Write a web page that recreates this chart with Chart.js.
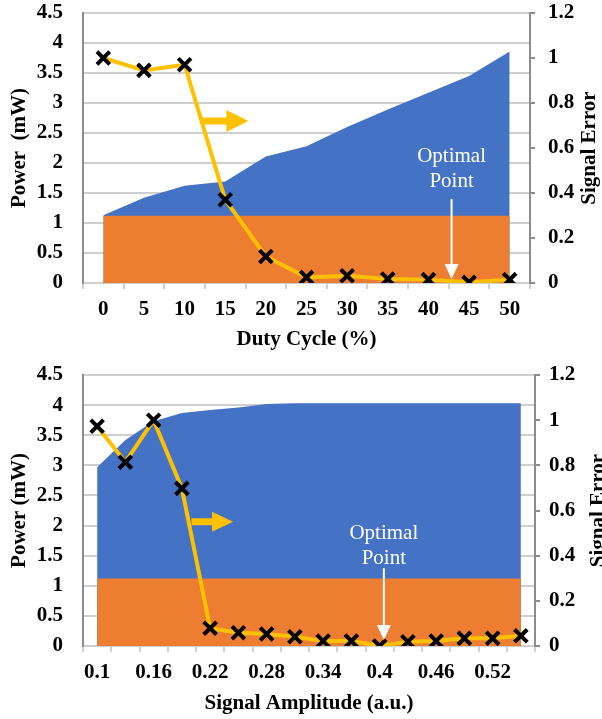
<!DOCTYPE html>
<html>
<head>
<meta charset="utf-8">
<script src="https://cdn.jsdelivr.net/npm/chart.js"></script>
<style>
  body { margin: 0; background: #fff; }
  .wrap { position: absolute; left: 0; width: 602px; }
  #top-wrap { top: 0; height: 355px; }
  #bottom-wrap { top: 355px; height: 364px; }
</style>
</head>
<body>
<div class="wrap" id="top-wrap"><canvas id="dutyChart" width="602" height="355"></canvas></div>
<div class="wrap" id="bottom-wrap"><canvas id="ampChart" width="602" height="364"></canvas></div>
<script>
// top chart: duty cycle sweep
const dutyCycle = ["0", "5", "10", "15", "20", "25", "30", "35", "40", "45", "50"];
const dutyPower = [1.13, 1.42, 1.62, 1.69, 2.11, 2.28, 2.6, 2.89, 3.17, 3.45, 3.86];
const dutyBase = [1.12, 1.12, 1.12, 1.12, 1.12, 1.12, 1.12, 1.12, 1.12, 1.12, 1.12];
const dutyError = [1.0, 0.945, 0.97, 0.37, 0.118, 0.025, 0.032, 0.018, 0.015, 0.003, 0.015];

// bottom chart: signal amplitude sweep
const amplitude = ["0.1", "0.13", "0.16", "0.19", "0.22", "0.25", "0.28", "0.31",
  "0.34", "0.37", "0.4", "0.43", "0.46", "0.49", "0.52", "0.55"];
const ampPower = [2.97, 3.42, 3.73, 3.87, 3.92, 3.96, 4.02, 4.03,
  4.03, 4.03, 4.03, 4.03, 4.03, 4.03, 4.03, 4.03];
const ampBase = [1.12, 1.12, 1.12, 1.12, 1.12, 1.12, 1.12, 1.12,
  1.12, 1.12, 1.12, 1.12, 1.12, 1.12, 1.12, 1.12];
const ampError = [0.973, 0.814, 1.0, 0.698, 0.079, 0.059, 0.053, 0.041,
  0.022, 0.022, 0.0, 0.019, 0.022, 0.034, 0.034, 0.045];

// axis ticks
const powerTicks = ["0", "0.5", "1", "1.5", "2", "2.5", "3", "3.5", "4", "4.5"];
const errorTicks = ["0", "0.2", "0.4", "0.6", "0.8", "1", "1.2"];

const FONT = "'Liberation Serif', 'Times New Roman', serif";
const boldFont = { family: FONT, size: 21, weight: "bold" };
const GRID = "#cfcfcf";

function tickText(list, value) {
  const hit = list.find((t) => Math.abs(parseFloat(t) - value) < 1e-6);
  return hit === undefined ? "" : hit;
}

// horizontal grid lines of the power axis, drawn before the datasets
const gridPlugin = {
  id: "powerGrid",
  beforeDraw(chart) {
    const { ctx, chartArea, scales } = chart;
    ctx.save();
    ctx.strokeStyle = GRID;
    ctx.lineWidth = 2;
    scales.y.ticks.forEach((t) => {
      const py = Math.round(scales.y.getPixelForValue(t.value));
      ctx.beginPath();
      ctx.moveTo(chartArea.left, py);
      ctx.lineTo(chartArea.right, py);
      ctx.stroke();
    });
    ctx.restore();
  },
};

// arrows, "Optimal Point" label and the right-hand axis title
const notesPlugin = {
  id: "notes",
  afterDatasetsDraw(chart, args, opts) {
    const { ctx, scales } = chart;
    const x = scales.x;
    const y1 = scales.y1;

    // yellow block arrow pointing to the right axis
    const a = opts.arrow;
    const ax0 = x.getPixelForValue(a.from);
    const ax1 = x.getPixelForValue(a.to);
    const ay = y1.getPixelForValue(a.at);
    ctx.save();
    ctx.fillStyle = "#FFC000";
    ctx.beginPath();
    ctx.moveTo(ax0, ay - a.shaft / 2);
    ctx.lineTo(ax1 - a.headLen, ay - a.shaft / 2);
    ctx.lineTo(ax1 - a.headLen, ay - a.headHalf);
    ctx.lineTo(ax1, ay);
    ctx.lineTo(ax1 - a.headLen, ay + a.headHalf);
    ctx.lineTo(ax1 - a.headLen, ay + a.shaft / 2);
    ctx.lineTo(ax0, ay + a.shaft / 2);
    ctx.closePath();
    ctx.fill();

    // white "Optimal Point" callout
    const o = opts.optimal;
    const ox = x.getPixelForValue(o.at);
    ctx.fillStyle = "#fff";
    ctx.strokeStyle = "#fff";
    ctx.font = "21px " + FONT;
    ctx.textAlign = "center";
    ctx.textBaseline = "middle";
    o.lines.forEach(([text, v]) => ctx.fillText(text, ox, y1.getPixelForValue(v)));
    const top = y1.getPixelForValue(o.from);
    const tip = y1.getPixelForValue(o.to);
    ctx.lineWidth = 2;
    ctx.beginPath();
    ctx.moveTo(ox, top);
    ctx.lineTo(ox, tip - 14);
    ctx.stroke();
    ctx.beginPath();
    ctx.moveTo(ox - 7, tip - 15);
    ctx.lineTo(ox + 7, tip - 15);
    ctx.lineTo(ox, tip);
    ctx.closePath();
    ctx.fill();
    ctx.restore();
  },
  afterDraw(chart, args, opts) {
    const { ctx, chartArea } = chart;
    ctx.save();
    ctx.translate(opts.rightTitleX, (chartArea.top + chartArea.bottom) / 2);
    ctx.rotate(-Math.PI / 2);
    ctx.fillStyle = "#000";
    ctx.font = "bold 21px " + FONT;
    ctx.textAlign = "center";
    ctx.textBaseline = "middle";
    ctx.fillText("Signal Error", 0, 0);
    ctx.restore();
  },
};

function makeChart(canvasId, cfg) {
  const ctx = document.getElementById(canvasId).getContext("2d");
  return new Chart(ctx, {
    type: "line",
    data: {
      labels: cfg.labels,
      datasets: [
        {
          label: "Signal Error",
          data: cfg.error,
          yAxisID: "y1",
          borderColor: "#FFC000",
          borderWidth: 4,
          tension: 0,
          fill: false,
          pointStyle: "crossRot",
          pointRadius: 9,
          pointBorderWidth: 4,
          pointBorderColor: "#000",
          pointBackgroundColor: "#000",
          order: 0,
        },
        {
          label: "Base Power",
          data: cfg.base,
          yAxisID: "y",
          backgroundColor: "#ED7D31",
          borderWidth: 0,
          pointRadius: 0,
          fill: "origin",
          order: 1,
        },
        {
          label: "Power",
          data: cfg.power,
          yAxisID: "y",
          backgroundColor: "#4472C4",
          borderWidth: 0,
          pointRadius: 0,
          fill: "origin",
          order: 2,
        },
      ],
    },
    options: {
      responsive: false,
      animation: false,
      layout: { padding: { top: cfg.padTop, left: 0, right: 0, bottom: 0 } },
      plugins: {
        legend: { display: false },
        tooltip: { enabled: false },
        notes: cfg.notes,
      },
      scales: {
        x: {
          type: "category",
          offset: true,
          grid: {
            offset: true,
            drawOnChartArea: false,
            drawTicks: true,
            tickLength: 6,
            color: GRID,
            lineWidth: 2,
          },
          border: { color: GRID, width: 2 },
          ticks: {
            font: boldFont,
            color: "#000",
            padding: 8,
            maxRotation: 0,
            autoSkip: false,
            callback: cfg.xLabel,
          },
          title: {
            display: true,
            text: cfg.xTitle,
            font: boldFont,
            color: "#000",
            padding: { top: 0, bottom: cfg.xTitlePad },
          },
          afterFit: (scale) => {
            scale.height = cfg.xHeight;
            scale.paddingLeft = 0;
            scale.paddingRight = 0;
          },
        },
        y: {
          position: "left",
          min: 0,
          max: 4.5,
          grid: {
            drawOnChartArea: true,
            color: GRID,
            lineWidth: 2,
            drawTicks: true,
            tickLength: 20,
            tickColor: "rgba(0,0,0,0)",
          },
          border: { color: "#8c8c8c", width: 2 },
          ticks: {
            font: boldFont,
            color: "#000",
            padding: 0,
            stepSize: 0.5,
            autoSkip: false,
            callback: (v) => tickText(powerTicks, v),
          },
          title: {
            display: true,
            text: cfg.yTitle,
            font: boldFont,
            color: "#000",
            padding: { top: 7, bottom: 0 },
          },
          afterFit: (scale) => {
            scale.width = 83;
            scale.paddingTop = 0;
            scale.paddingBottom = 0;
          },
        },
        y1: {
          position: "right",
          min: 0,
          max: 1.2,
          grid: {
            drawOnChartArea: false,
            drawTicks: true,
            tickLength: 5,
            color: "#8c8c8c",
            lineWidth: 2,
          },
          border: { color: "#8c8c8c", width: 2 },
          ticks: {
            font: boldFont,
            color: "#000",
            padding: cfg.rightPad,
            stepSize: 0.2,
            autoSkip: false,
            callback: (v) => tickText(errorTicks, v),
          },
          afterFit: (scale) => {
            scale.width = cfg.rightWidth;
            scale.paddingTop = 0;
            scale.paddingBottom = 0;
          },
        },
      },
    },
    plugins: [gridPlugin, notesPlugin],
  });
}

makeChart("dutyChart", {
  labels: dutyCycle,
  power: dutyPower,
  base: dutyBase,
  error: dutyError,
  xTitle: "Duty Cycle (%)",
  yTitle: "Power  (mW)",
  xLabel: (v, i) => dutyCycle[i],
  padTop: 13,
  xHeight: 72,
  xTitlePad: 3,
  rightWidth: 72,
  rightPad: 13,
  notes: {
    rightTitleX: 590,
    arrow: { from: 2.42, to: 3.57, at: 0.72, shaft: 7, headLen: 22, headHalf: 11 },
    optimal: { at: 8.57, lines: [["Optimal", 0.563], ["Point", 0.452]], from: 0.373, to: 0.018 },
  },
});

makeChart("ampChart", {
  labels: amplitude,
  power: ampPower,
  base: ampBase,
  error: ampError,
  xTitle: "Signal Amplitude (a.u.)",
  yTitle: "Power (mW)",
  xLabel: (v, i) => (i % 2 === 0 ? amplitude[i] : ""),
  padTop: 20,
  xHeight: 73,
  xTitlePad: 3,
  rightWidth: 67,
  rightPad: 9,
  notes: {
    rightTitleX: 599,
    arrow: { from: 3.34, to: 4.81, at: 0.55, shaft: 7, headLen: 21, headHalf: 10 },
    optimal: { at: 10.15, lines: [["Optimal", 0.499], ["Point", 0.388]], from: 0.344, to: 0.027 },
  },
});
</script>
</body>
</html>
